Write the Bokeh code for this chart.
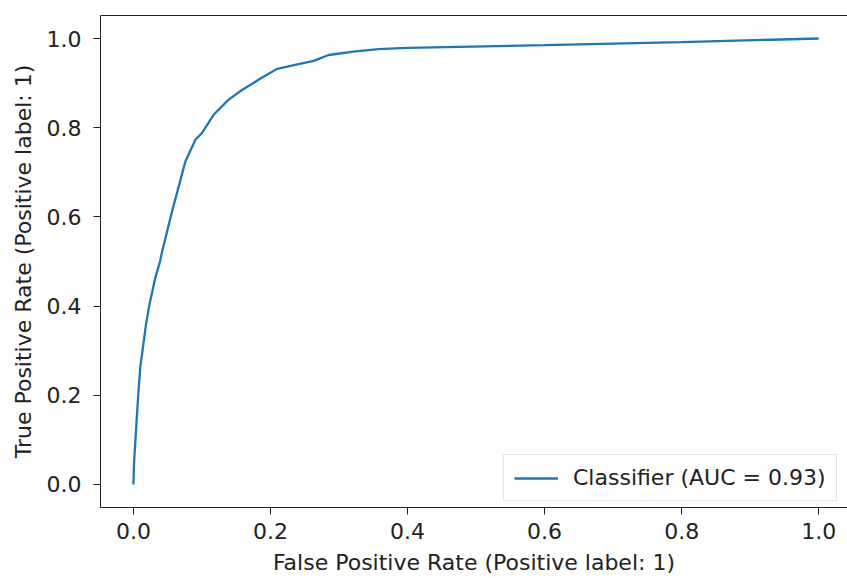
from bokeh.plotting import figure
from bokeh.models import FixedTicker, PrintfTickFormatter, Range1d, Legend, LegendItem, LinearAxis
from bokeh.embed import file_html
from bokeh.resources import INLINE

fpr = [0.0, 0.001, 0.003, 0.007, 0.010, 0.0185, 0.023, 0.032, 0.039, 0.042, 0.0565,
       0.076, 0.0905, 0.100, 0.117, 0.139, 0.159, 0.183, 0.210, 0.236, 0.263, 0.285,
       0.324, 0.358, 0.382, 0.4, 0.6, 0.8, 1.0]
tpr = [0.0, 0.05, 0.10, 0.20, 0.262, 0.36, 0.40, 0.464, 0.501, 0.523, 0.613,
       0.725, 0.773, 0.788, 0.829, 0.863, 0.885, 0.908, 0.932, 0.941, 0.950, 0.963,
       0.971, 0.976, 0.978, 0.979, 0.985, 0.992, 1.0]
ticks = [0.0, 0.2, 0.4, 0.6, 0.8, 1.0]
legend_label = "Classifier (AUC = 0.93)"
x_label = "False Positive Rate (Positive label: 1)"
y_label = "True Positive Rate (Positive label: 1)"

FONT = "DejaVu Sans"
FS = "22px"
TXT = "#222222"
SPINE = "#222222"

p = figure(width=847, height=578, output_backend="svg", toolbar_location=None,
           x_range=Range1d(-0.048, 1.042), y_range=Range1d(-0.0516, 1.0516),
           min_border_left=100, min_border_right=0, min_border_top=15, min_border_bottom=71)
p.background_fill_color = "white"
p.border_fill_color = "white"
p.outline_line_color = None
p.xgrid.visible = False
p.ygrid.visible = False

r = p.line(fpr, tpr, line_color="#1f77b4", line_width=2.3)

bottom_axis = p.below[0]
left_axis = p.left[0]
for ax, lab, so, lso in ((bottom_axis, x_label, 8, 8), (left_axis, y_label, 12, 8)):
    ax.ticker = FixedTicker(ticks=ticks)
    ax.formatter = PrintfTickFormatter(format="%.1f")
    ax.minor_tick_line_color = None
    ax.major_tick_in = 0
    ax.major_tick_out = 7
    ax.major_tick_line_color = SPINE
    ax.major_tick_line_width = 1
    ax.axis_line_color = SPINE
    ax.major_label_text_font = FONT
    ax.major_label_text_font_size = FS
    ax.major_label_text_color = TXT
    ax.axis_label = lab
    ax.axis_label_text_font = FONT
    ax.axis_label_text_font_size = FS
    ax.axis_label_text_font_style = "normal"
    ax.axis_label_text_color = TXT
    ax.major_label_standoff = so
    ax.axis_label_standoff = lso

top = LinearAxis(ticker=FixedTicker(ticks=[]), axis_line_color=SPINE, axis_line_width=1,
                 major_tick_out=0, major_tick_in=0, minor_tick_out=0, minor_tick_in=0,
                 major_label_standoff=0, minor_tick_line_color=None, major_tick_line_color=None)
p.add_layout(top, "above")

legend = Legend(items=[LegendItem(label=legend_label, renderers=[r])], location=(403, 6))
legend.label_text_font = FONT
legend.label_text_font_size = FS
legend.label_text_color = TXT
legend.border_line_color = "#cccccc"
legend.border_line_width = 1
legend.background_fill_color = "white"
legend.background_fill_alpha = 0.8
legend.glyph_width = 44
legend.margin = 0
legend.padding = 10
legend.label_standoff = 15
p.add_layout(legend)

open("out.html", "w").write(file_html(p, INLINE))
